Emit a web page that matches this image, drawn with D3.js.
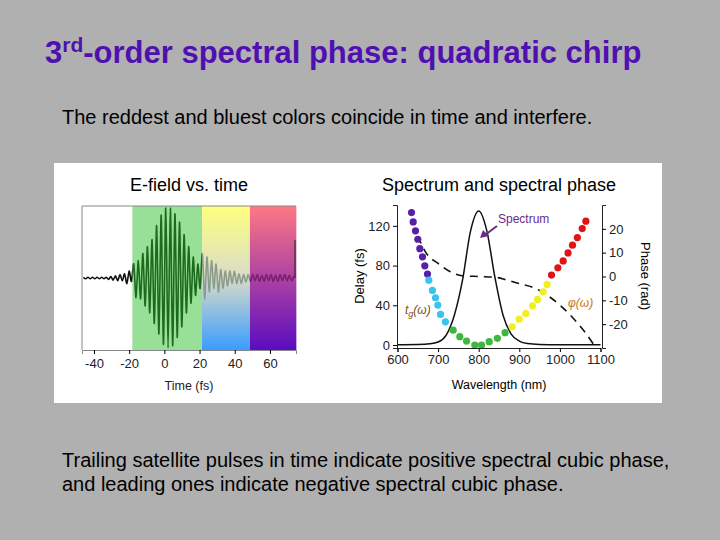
<!DOCTYPE html><html><head><meta charset="utf-8"><script src="https://cdn.jsdelivr.net/npm/d3@7"></script>
<style>body{margin:0;background:#b0b0b0}svg{display:block}text{font-family:"Liberation Sans",Arial,sans-serif}</style></head><body><script>
const timeTicks=[-40,-20,0,20,40,60];
const wlTicks=[600,700,800,900,1000,1100];
const delayTicks=[0,40,80,120];
const phaseTicks=[20,10,0,-10,-20];
// E-field extrema (signed, normalized), starting at t=-46 fs, 1.3 fs apart
const fieldStart=-46, fieldStep=1.3;
const field=[0.01,-0.01,0.01,-0.01,0.01,-0.01,0.01,-0.01,0.01,-0.01,0.01,-0.02,0.02,-0.03,0.03,-0.04,0.05,-0.04,0.06,-0.08,0.1,-0.05,
0.2,-0.28,0.25,-0.3,0.35,-0.4,0.45,-0.5,0.55,-0.65,0.75,-0.8,0.9,-0.95,1.0,-1.0,1.0,-0.97,0.92,-0.85,0.8,-0.7,0.62,-0.5,0.45,-0.36,0.3,-0.25,0.2,-0.15,0.35,
-0.3,0.3,-0.2,0.25,-0.15,0.2,-0.2,0.12,-0.15,0.1,-0.12,0.1,-0.08,0.1,-0.08,0.06,-0.08,0.05,-0.06,0.05,-0.05,
0.05,-0.04,0.05,-0.05,0.04,-0.05,0.05,-0.04,0.05,-0.05,0.04,-0.05,0.05,-0.04,0.05,-0.04,0.04,-0.04,0.03];
const bands=[{a:-18.2,b:21.4,top:"#98e098",bot:"#98e098",line:"#1c6a1c"},{a:21.4,b:48.6,top:"#ffff80",bot:"#3a9cff",line:"#8c9c8c"},{a:48.6,b:75,top:"#ff7884",bot:"#5a0cc0",line:"#7a2070"}];
// group delay dots (nm, fs)
const tgWl=[634.5,638.6,644.3,650,655,661.6,667.3,673.9,677.2,686,693.6,699.3,705.9,718,737,753.5,770,790.5,807,825.8,846,865,882.4,899.7,916,932.5,944.8,958.8,968.6,979.3,995,1008,1020,1031,1043,1055,1064];
const tgVal=[133.4,124,115,106.5,97,88.8,79.7,71.4,65.3,55,47.6,40.2,30.8,23.4,15,8.4,4,0,0,3.4,6.7,12.4,18.4,26,31.8,39.5,45.9,53.6,61,70.4,77.7,84.7,92.7,100.5,108.2,117.3,124.7];
const tgColor=["#5a1fa8","#5a1fa8","#5a1fa8","#5a1fa8","#5a1fa8","#5a1fa8","#5a1fa8","#5a1fa8","#38c4f0","#38c4f0","#38c4f0","#38c4f0","#38c4f0","#38c4f0","#3cb83c","#3cb83c","#3cb83c","#3cb83c","#3cb83c","#3cb83c","#3cb83c","#3cb83c","#f0f020","#f0f020","#f0f020","#f0f020","#f0f020","#f0f020","#f0f020","#e01414","#e01414","#e01414","#e01414","#e01414","#e01414","#e01414","#e01414"];
const phWl=[650,670,700,730,760,800,840,870,900,940,970,1000,1030,1060,1085];
const phVal=[17,10,5.5,2,0.3,0,-0.3,-1.5,-3,-5,-8,-12,-17,-23,-29];
const spWl=[600,650,680,700,720,740,760,780,800,820,840,860,880,900,920,950,1000,1100];
const spVal=[0.3,0.5,1.2,3,10,30,65,115,135,115,68,30,11,4,1.5,0.6,0.3,0.2];

const svg=d3.select("body").append("svg").attr("width",720).attr("height",540);
svg.append("rect").attr("width",720).attr("height",540).attr("fill","#b0b0b0");
const T=svg.append("text").attr("x",45).attr("y",63).attr("fill","#5010b0").attr("font-size",31).attr("font-weight","bold");
T.append("tspan").text("3");T.append("tspan").attr("font-size",21).attr("dy",-11).text("rd");
T.append("tspan").attr("dy",11).text("-order spectral phase: quadratic chirp");
svg.append("text").attr("x",62).attr("y",124).attr("font-size",20).text("The reddest and bluest colors coincide in time and interfere.");
svg.append("text").attr("x",62).attr("y",467).attr("font-size",20).text("Trailing satellite pulses in time indicate positive spectral cubic phase,");
svg.append("text").attr("x",62).attr("y",491).attr("font-size",20).text("and leading ones indicate negative spectral cubic phase.");
svg.append("rect").attr("x",54).attr("y",163).attr("width",608).attr("height",240).attr("fill","#fff");
svg.append("text").attr("x",189).attr("y",191).attr("text-anchor","middle").attr("font-size",18).text("E-field vs. time");
svg.append("text").attr("x",499).attr("y",191).attr("text-anchor","middle").attr("font-size",18).text("Spectrum and spectral phase");

// left panel
const x=d3.scaleLinear().domain([-46.8,74.8]).range([82,296]);
const yE=d3.scaleLinear().domain([-1,1]).range([350,206]);
const defs=svg.append("defs");
bands.forEach((b,i)=>{
  const g=defs.append("linearGradient").attr("id","g"+i).attr("x1",0).attr("x2",0).attr("y1",0).attr("y2",1);
  g.append("stop").attr("offset",0).attr("stop-color",b.top);
  if(i==1)g.append("stop").attr("offset",0.5).attr("stop-color","#d8dcc8");
  g.append("stop").attr("offset",1).attr("stop-color",b.bot);
  svg.append("rect").attr("x",x(b.a)).attr("y",206).attr("width",x(b.b)-x(b.a)).attr("height",144).attr("fill",`url(#g${i})`);
  defs.append("clipPath").attr("id","c"+i).append("rect").attr("x",x(b.a)).attr("y",150).attr("width",x(b.b)-x(b.a)).attr("height",260);
});
defs.append("clipPath").attr("id","c3").append("rect").attr("x",0).attr("y",150).attr("width",x(bands[0].a)).attr("height",260);
const pts=field.map((v,i)=>[x(fieldStart+i*fieldStep),yE(v*0.97)]);
const line=d3.line().curve(d3.curveCardinal.tension(0.2));
const cols=[bands[0].line,bands[1].line,bands[2].line,"#111"];
cols.forEach((c,i)=>svg.append("path").attr("d",line(pts)).attr("fill","none").attr("stroke",c).attr("stroke-width",1.6).attr("clip-path",`url(#c${i})`));
svg.append("line").attr("x1",82).attr("x2",296).attr("y1",206).attr("y2",206).attr("stroke","#888");
svg.append("line").attr("x1",82).attr("x2",82).attr("y1",206).attr("y2",350).attr("stroke","#888");
svg.append("line").attr("x1",295).attr("x2",295).attr("y1",240).attr("y2",278).attr("stroke","#222");
const fmt=d=>String(d);
const ax=svg.append("g").attr("transform","translate(0,350)").call(d3.axisBottom(x).tickValues(timeTicks).tickFormat(fmt).tickSize(4).tickPadding(5));
ax.select(".domain").attr("stroke","#888");ax.selectAll("text").attr("font-size",13).attr("fill","#222");
svg.append("text").attr("x",189).attr("y",390).attr("text-anchor","middle").attr("font-size",12.5).attr("fill","#222").text("Time (fs)");

// right panel
const xw=d3.scaleLinear().domain([600,1100]).range([397.5,600.5]);
const yd=d3.scaleLinear().domain([-3,141]).range([348,205]);
const yp=d3.scaleLinear().domain([-30,30]).range([348,205]);
svg.append("path").datum(spWl.map((w,i)=>[xw(w),yd(spVal[i])])).attr("d",d3.line().curve(d3.curveMonotoneX)).attr("fill","none").attr("stroke","#111").attr("stroke-width",1.5);
svg.append("path").datum(phWl.map((w,i)=>[xw(w),yp(phVal[i])])).attr("d",d3.line().curve(d3.curveMonotoneX)).attr("fill","none").attr("stroke","#111").attr("stroke-width",1.6).attr("stroke-dasharray","8,6");
svg.selectAll(".dot").data(tgWl).join("circle").attr("cx",d=>xw(d)).attr("cy",(d,i)=>yd(tgVal[i])).attr("r",3.6).attr("fill",(d,i)=>tgColor[i]);
const al=svg.append("g").attr("transform","translate(397,0)").call(d3.axisLeft(yd).tickValues(delayTicks).tickFormat(fmt).tickSize(4));
const ar=svg.append("g").attr("transform","translate(602,0)").call(d3.axisRight(yp).tickValues(phaseTicks).tickFormat(fmt).tickSize(4));
const ab=svg.append("g").attr("transform","translate(0,348)").call(d3.axisBottom(xw).tickValues(wlTicks).tickFormat(fmt).tickSize(4));
[al,ar,ab].forEach(a=>{a.select(".domain").attr("stroke","#222");a.selectAll("text").attr("font-size",13).attr("fill","#222");});
svg.append("text").attr("transform","translate(364,276) rotate(-90)").attr("text-anchor","middle").attr("font-size",13).text("Delay (fs)");
svg.append("text").attr("transform","translate(641,276) rotate(90)").attr("text-anchor","middle").attr("font-size",13).text("Phase (rad)");
svg.append("text").attr("x",499).attr("y",389).attr("text-anchor","middle").attr("font-size",12.5).text("Wavelength (nm)");
svg.append("text").attr("x",498).attr("y",223).attr("font-size",12).attr("fill","#6a2a8a").text("Spectrum");
svg.append("line").attr("x1",497).attr("y1",226).attr("x2",485).attr("y2",235).attr("stroke","#6a2a8a").attr("stroke-width",2);
svg.append("path").attr("d","M480,238 L483,230 L489,236 Z").attr("fill","#6a2a8a");
const tg=svg.append("text").attr("x",405).attr("y",314).attr("font-size",12).attr("fill","#7a5020").attr("font-style","italic");
tg.append("tspan").text("t");tg.append("tspan").attr("font-size",9).attr("dy",3).text("g");tg.append("tspan").attr("dy",-3).text("(ω)");
svg.append("text").attr("x",568).attr("y",307).attr("font-size",12).attr("fill","#c07820").attr("font-style","italic").text("φ(ω)");
</script></body></html>
